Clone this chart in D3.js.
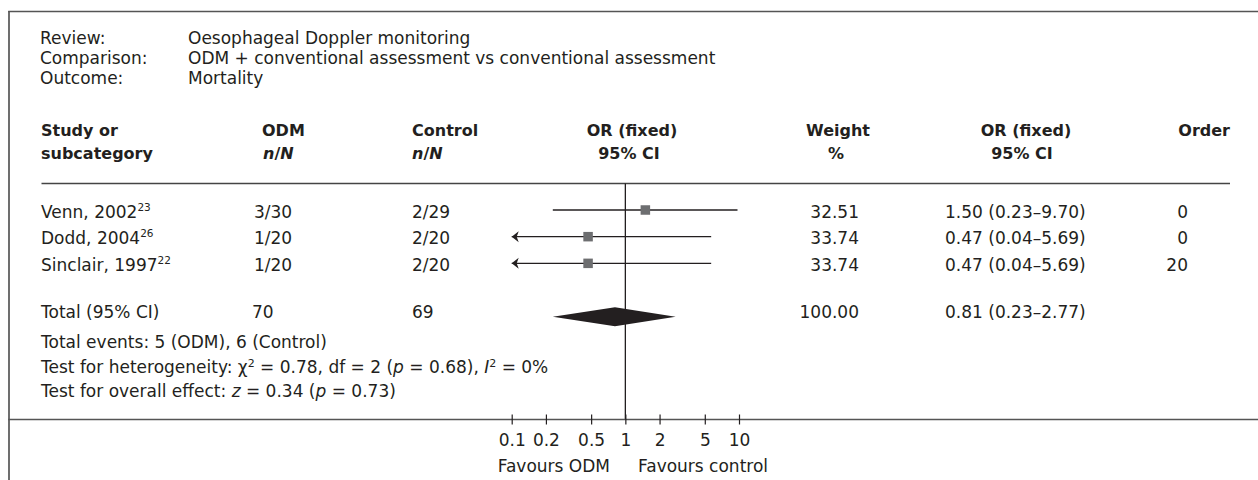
<!DOCTYPE html>
<html>
<head>
<meta charset="utf-8">
<script src="https://cdn.jsdelivr.net/npm/d3@7"></script>
<style>
  html, body { margin: 0; padding: 0; background: #fff; }
  svg text { font-family: "DejaVu Sans", "Lato", sans-serif; fill: #231f20; }
</style>
</head>
<body>
<svg id="chart" width="1258" height="480"></svg>
<script>
// ---------------- data ----------------
const titleLabels = ["Review:", "Comparison:", "Outcome:"];
const titleValues = ["Oesophageal Doppler monitoring",
                     "ODM + conventional assessment vs conventional assessment",
                     "Mortality"];
const studies   = ["Venn, 2002", "Dodd, 2004", "Sinclair, 1997"];
const refs      = ["23", "26", "22"];
const odmNN     = ["3/30", "1/20", "1/20"];
const ctrlNN    = ["2/29", "2/20", "2/20"];
const orValues  = [1.50, 0.47, 0.47];
const ciLow     = [0.23, 0.04, 0.04];
const ciHigh    = [9.70, 5.69, 5.69];
const weights   = [32.51, 33.74, 33.74];
const orders    = [0, 0, 20];
const totalLabel = "Total (95% CI)";
const totalODM  = 70;
const totalCtrl = 69;
const totalOR   = 0.81, totalLow = 0.23, totalHigh = 2.77, totalWeight = 100.00;
const tickValues = [0.1, 0.2, 0.5, 1, 2, 5, 10];
const tickLabels = ["0.1", "0.2", "0.5", "1", "2", "5", "10"];
const footLines = [
  [["Total events: 5 (ODM), 6 (Control)", "n"]],
  [["Test for heterogeneity: χ", "n"], ["2", "sup"], [" = 0.78, df = 2 (", "n"], ["p", "i"], [" = 0.68), ", "n"], ["I", "i"], ["2", "sup"], [" = 0%", "n"]],
  [["Test for overall effect: ", "n"], ["z", "i"], [" = 0.34 (", "n"], ["p", "i"], [" = 0.73)", "n"]]
];
const favourLeft = "Favours ODM", favourRight = "Favours control";

// ---------------- layout ----------------
const svg = d3.select("#chart");
const FS = 17, FSB = 16;
const ink = "#231f20";
const fmtCI = (o, l, h) => `${o.toFixed(2)} (${l.toFixed(2)}–${h.toFixed(2)})`;

const x = d3.scaleLog().domain([0.1, 10]).range([511.7, 739]);
const rowY = d3.scaleLinear().domain([0, 1]).range([210, 236.67]);
const totalRow = 4;

// frame
svg.append("line").attr("x1", 9).attr("x2", 9).attr("y1", 11).attr("y2", 480)
  .attr("stroke", "#555").attr("stroke-width", 1.7);
svg.append("line").attr("x1", 8.2).attr("x2", 1258).attr("y1", 11.5).attr("y2", 11.5)
  .attr("stroke", "#555").attr("stroke-width", 1.7);

// title block
const tb = svg.append("g").attr("font-size", FS);
titleLabels.forEach((t, i) => {
  const y = 43.5 + i * 20.3;
  tb.append("text").attr("x", 40).attr("y", y).text(t);
  tb.append("text").attr("x", 188).attr("y", y).text(titleValues[i]);
});

// header
const hd = svg.append("g").attr("font-size", FSB).attr("font-weight", "bold");
const nN = (sel) => {
  sel.append("tspan").attr("font-style", "italic").text("n");
  sel.append("tspan").text("/");
  sel.append("tspan").attr("font-style", "italic").text("N");
};
hd.append("text").attr("x", 41).attr("y", 136).text("Study or");
hd.append("text").attr("x", 41).attr("y", 159).text("subcategory");
hd.append("text").attr("x", 262).attr("y", 136).text("ODM");
hd.append("text").attr("x", 263).attr("y", 159).call(nN);
hd.append("text").attr("x", 412).attr("y", 136).text("Control");
hd.append("text").attr("x", 412).attr("y", 159).call(nN);
hd.append("text").attr("x", 632).attr("y", 136).attr("text-anchor", "middle").text("OR (fixed)");
hd.append("text").attr("x", 629).attr("y", 159).attr("text-anchor", "middle").text("95% CI");
hd.append("text").attr("x", 838).attr("y", 136).attr("text-anchor", "middle").text("Weight");
hd.append("text").attr("x", 836).attr("y", 159).attr("text-anchor", "middle").text("%");
hd.append("text").attr("x", 1026).attr("y", 136).attr("text-anchor", "middle").text("OR (fixed)");
hd.append("text").attr("x", 1022).attr("y", 159).attr("text-anchor", "middle").text("95% CI");
hd.append("text").attr("x", 1230).attr("y", 136).attr("text-anchor", "end").text("Order");

svg.append("line").attr("x1", 41.5).attr("x2", 1230).attr("y1", 183.5).attr("y2", 183.5)
  .attr("stroke", "#444").attr("stroke-width", 1.5);

// study rows text
const rows = svg.append("g").attr("font-size", FS);
studies.forEach((s, i) => {
  const yb = rowY(i) + 7.5;
  const t = rows.append("text").attr("x", 41).attr("y", yb);
  t.append("tspan").text(s);
  t.append("tspan").attr("font-size", 10.5).attr("dy", -7).text(refs[i]);
  rows.append("text").attr("x", 254).attr("y", yb).text(odmNN[i]);
  rows.append("text").attr("x", 412).attr("y", yb).text(ctrlNN[i]);
  rows.append("text").attr("x", 859).attr("y", yb).attr("text-anchor", "end").text(weights[i].toFixed(2));
  rows.append("text").attr("x", 945).attr("y", yb).text(fmtCI(orValues[i], ciLow[i], ciHigh[i]));
  rows.append("text").attr("x", 1188).attr("y", yb).attr("text-anchor", "end").text(orders[i]);
});

// total row text
const ty = rowY(totalRow) + 1.5;
rows.append("text").attr("x", 41).attr("y", ty).text(totalLabel);
rows.append("text").attr("x", 252).attr("y", ty).text(totalODM);
rows.append("text").attr("x", 412).attr("y", ty).text(totalCtrl);
rows.append("text").attr("x", 859).attr("y", ty).attr("text-anchor", "end").text(totalWeight.toFixed(2));
rows.append("text").attr("x", 945).attr("y", ty).text(fmtCI(totalOR, totalLow, totalHigh));

// footer lines
footLines.forEach((parts, i) => {
  const t = rows.append("text").attr("x", 41).attr("y", 348 + i * 24.6);
  let raised = false;
  parts.forEach(([str, kind]) => {
    const sp = t.append("tspan").text(str);
    if (kind === "i") sp.attr("font-style", "italic");
    if (kind === "sup") { sp.attr("font-size", 11).attr("dy", -6); raised = true; }
    else if (raised) { sp.attr("dy", 6); raised = false; }
  });
});

// ---------------- forest plot ----------------
const plot = svg.append("g");
// line of no effect
plot.append("line").attr("x1", x(1)).attr("x2", x(1)).attr("y1", 183.5).attr("y2", 419.5)
  .attr("stroke", ink).attr("stroke-width", 1.3);

const [xmin, xmax] = x.domain();
studies.forEach((s, i) => {
  const y = rowY(i);
  const lo = Math.max(ciLow[i], xmin), hi = Math.min(ciHigh[i], xmax);
  plot.append("line").attr("x1", x(lo)).attr("x2", x(hi)).attr("y1", y).attr("y2", y)
    .attr("stroke", ink).attr("stroke-width", 1.3);
  if (ciLow[i] < xmin) {
    const ax = x(xmin);
    plot.append("path")
      .attr("d", `M${ax},${y} L${ax + 7},${y - 5.5} L${ax + 5},${y} L${ax + 7},${y + 5.5} Z`)
      .attr("fill", ink);
  }
  if (ciHigh[i] > xmax) {
    const ax = x(xmax);
    plot.append("path")
      .attr("d", `M${ax},${y} L${ax - 7},${y - 5.5} L${ax - 5},${y} L${ax - 7},${y + 5.5} Z`)
      .attr("fill", ink);
  }
  const sz = 9.5;
  plot.append("rect").attr("x", x(orValues[i]) - sz / 2).attr("y", y - sz / 2)
    .attr("width", sz).attr("height", sz).attr("fill", "#6d6e70");
});

// total diamond
const dy = rowY(totalRow);
plot.append("path")
  .attr("d", `M${x(totalLow)},${dy} L${x(totalOR)},${dy - 9.5} L${x(totalHigh)},${dy} L${x(totalOR)},${dy + 9.5} Z`)
  .attr("fill", ink);

// axis baseline across full width
svg.append("line").attr("x1", 8.2).attr("x2", 1258).attr("y1", 419.5).attr("y2", 419.5)
  .attr("stroke", "#555").attr("stroke-width", 1.7);

// axis ticks
const axis = d3.axisBottom(x).tickValues(tickValues)
  .tickFormat((d, i) => tickLabels[i]).tickSize(10).tickPadding(12);
const ag = svg.append("g").attr("transform", "translate(0,414.5)").call(axis);
ag.select(".domain").remove();
ag.selectAll(".tick line").attr("stroke", ink).attr("stroke-width", 1.2);
ag.selectAll(".tick text").attr("font-size", FS).attr("font-family", null)
  .attr("fill", ink).attr("dy", null).attr("y", 31);

svg.append("text").attr("x", 610).attr("y", 472).attr("font-size", FS)
  .attr("text-anchor", "end").text(favourLeft);
svg.append("text").attr("x", 638).attr("y", 472).attr("font-size", FS).text(favourRight);
</script>
</body>
</html>
